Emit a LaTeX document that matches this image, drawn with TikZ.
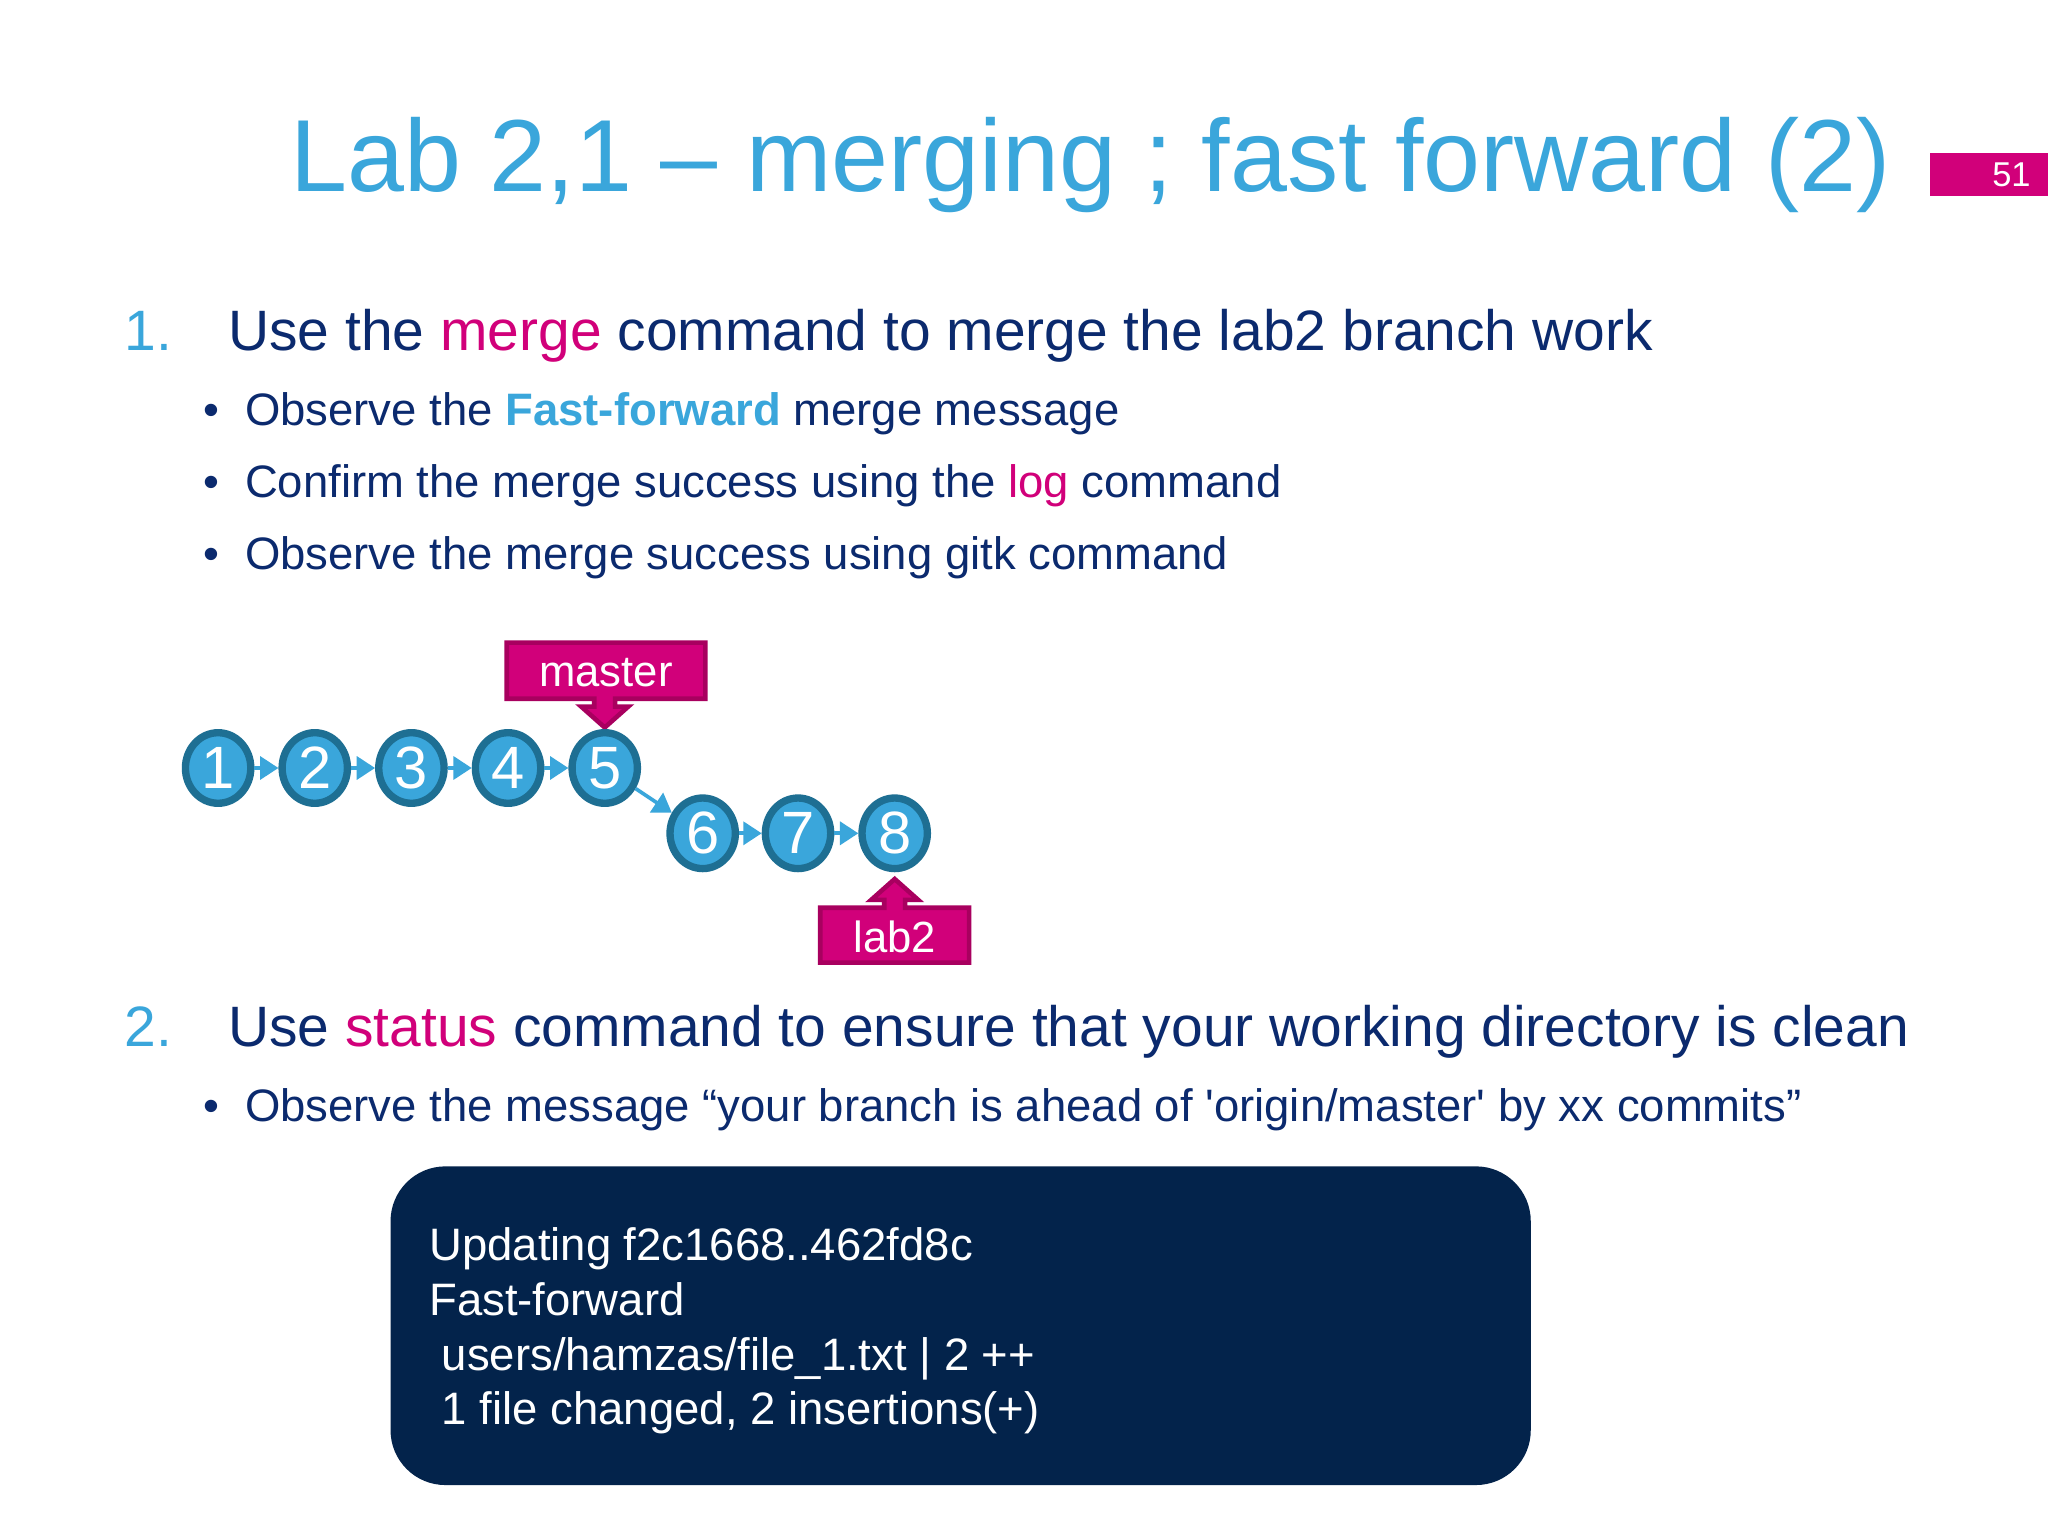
\documentclass[tikz,border=0pt]{standalone}
\usepackage{fontspec}
\setmainfont{Liberation Sans}
\usetikzlibrary{arrows.meta,shapes.geometric}
\definecolor{tblue}{HTML}{3AA6DB}
\definecolor{navy}{HTML}{0B2A6E}
\definecolor{mag}{HTML}{D1007A}
\definecolor{magd}{HTML}{A8005F}
\definecolor{cbord}{HTML}{1E6F93}
\definecolor{codebg}{HTML}{03234B}
\tikzset{
 commit/.style={ellipse,minimum width=0.5cm,minimum height=0.54cm,inner sep=0pt,fill=tblue,draw=cbord,line width=1.6pt,text=white,font=\fontsize{13}{13}\selectfont},
 link/.style={draw=tblue,line width=0.8pt,-{Triangle[length=4pt,width=5pt]}},
 callout/.style={fill=mag,draw=magd,line width=1pt},
 bul/.style={anchor=base west,text=navy,font=\fontsize{9.9}{11}\selectfont,inner sep=0pt},
 head/.style={anchor=base west,text=navy,font=\fontsize{12.4}{13}\selectfont,inner sep=0pt},
 num/.style={anchor=base west,text=tblue,font=\fontsize{12.4}{13}\selectfont,inner sep=0pt},
 dot/.style={anchor=base west,text=navy,font=\fontsize{9.9}{11}\selectfont,inner sep=0pt},
 code/.style={anchor=base west,text=white,font=\fontsize{9.9}{11}\selectfont,inner sep=0pt}
}
\begin{document}
\begin{tikzpicture}[x=0.01cm,y=-0.01cm]
\useasboundingbox[fill=white] (0,0) rectangle (1568,1176);
\node[text=tblue,font=\fontsize{22.3}{23}\selectfont,anchor=base] (title) at (835,147) {Lab 2,1 -- merging ; fast forward (2)};
\fill[mag] (1478,117) rectangle (1568,150);
\node[text=white,font=\fontsize{7.5}{8}\selectfont] (pg) at (1540,134) {51};
\node[num] (n1) at (95,268) {1.};
\node[head] (h1) at (174,268) {Use the \textcolor{mag}{merge} command to merge the lab2 branch work};
\foreach \y/\t [count=\i] in {326/{Observe the \textbf{\textcolor{tblue}{Fast-forward}} merge message},381/{Confirm the merge success using the \textcolor{mag}{log} command},436/{Observe the merge success using gitk command}}{
 \node[dot] (d\i) at (155,\y) {\textbullet};
 \node[bul] (b\i) at (187,\y) {\t};
}
% callouts
\path[callout] (388,492) -- (540,492) -- (540,535) -- (471,535) -- (471,541) -- (481,541) -- (463,557) -- (445,541) -- (455,541) -- (455,535) -- (388,535) -- cycle;
\node[text=white,font=\fontsize{9.5}{10}\selectfont] (master) at (464,515) {master};
\path[callout] (628,737) -- (742,737) -- (742,695) -- (693,695) -- (693,689) -- (703,689) -- (685,673) -- (667,689) -- (677,689) -- (677,695) -- (628,695) -- cycle;
\node[text=white,font=\fontsize{9.5}{10}\selectfont] (lab2) at (685,717) {lab2};
\foreach \i/\x/\y in {1/167/588,2/241/588,3/315/588,4/389/588,5/463/588,6/538/638,7/611/638,8/685/638}
 \node[commit] (c\i) at (\x,\y) {\i};
\foreach \a/\b in {1/2,2/3,3/4,4/5,5/6,6/7,7/8}
 \draw[link] (c\a) -- (c\b);
\node[num] (n2) at (95,801) {2.};
\node[head] (h2) at (174,801) {Use \textcolor{mag}{status} command to ensure that your working directory is clean};
\node[dot] (d4) at (155,859) {\textbullet};
\node[bul] (b4) at (187,859) {Observe the message “your branch is ahead of \textquotesingle origin/master\textquotesingle{} by xx commits”};
\fill[codebg,rounded corners=0.42cm] (299,893) rectangle (1172,1137);
\node[code] (l1) at (328,965) {Updating f2c1668..462fd8c};
\node[code] (l2) at (328,1007) {Fast-forward};
\node[code] (l3) at (328,1049) {\ users/hamzas/file\_1.txt | 2 ++};
\node[code] (l4) at (328,1091) {\ 1 file changed, 2 insertions(+)};
\end{tikzpicture}
\end{document}
